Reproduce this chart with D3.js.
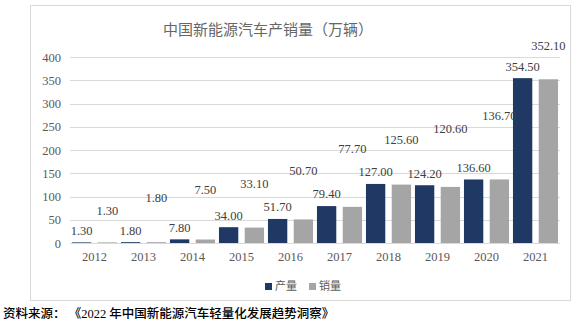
<!DOCTYPE html>
<html>
<head>
<meta charset="utf-8">
<script src="https://cdn.jsdelivr.net/npm/d3@7"></script>
<style>
  html, body { margin: 0; padding: 0; background: #fff; }
  svg { display: block; }
</style>
</head>
<body>
<script>
// ---- data ----
const years = ["2012","2013","2014","2015","2016","2017","2018","2019","2020","2021"];
const production = [1.3, 1.8, 7.8, 34.0, 51.7, 79.4, 127.0, 124.2, 136.6, 354.5];
const sales = [1.3, 1.8, 7.5, 33.1, 50.7, 77.7, 125.6, 120.6, 136.7, 352.1];
const yTicks = [0, 50, 100, 150, 200, 250, 300, 350, 400];
const seriesNames = ["产量", "销量"];
const title = "中国新能源汽车产销量（万辆）";
const source = "资料来源： 《2022 年中国新能源汽车轻量化发展趋势洞察》";

// label placement (pixels above bar top, as moved in the original)
const salesLabelLift = [32, 45, 50, 44, 49, 58, 45, 58, 64, 34];
const prodLabelLift = 12;

const W = 581, H = 325;
const colors = ["#1F3864", "#A5A5A5"];
const serif = "'Liberation Serif', 'Times New Roman', 'Noto Sans CJK SC', serif";
const cjk = "'Noto Sans CJK SC', sans-serif";

const svg = d3.select("body").append("svg").attr("width", W).attr("height", H);

// chart frame
svg.append("rect").attr("x", 30.5).attr("y", 5.5).attr("width", 540).attr("height", 295)
  .attr("fill", "#fff").attr("stroke", "#D9D9D9").attr("stroke-width", 1);

const x0 = d3.scaleBand().domain(years).range([70, 560]).paddingInner(0.08).paddingOuter(0.04);
const x1 = d3.scaleBand().domain([0, 1]).range([0, x0.bandwidth()]).paddingInner(0.25);
const y = d3.scaleLinear().domain([0, 400]).range([243, 57]);

// gridlines
svg.append("g").selectAll("line").data(yTicks).join("line")
  .attr("x1", 70).attr("x2", 560)
  .attr("y1", d => Math.round(y(d)) + 0.5).attr("y2", d => Math.round(y(d)) + 0.5)
  .attr("stroke", "#D9D9D9").attr("stroke-width", 1);

// y axis labels
const yAxis = d3.axisLeft(y).tickValues(yTicks).tickSize(0).tickPadding(0);
const gy = svg.append("g").attr("transform", "translate(61,0)").call(yAxis);
gy.select(".domain").remove();
gy.selectAll("text").attr("font-family", serif).attr("font-size", 12.5).attr("fill", "#595959");

// x axis labels
const xAxis = d3.axisBottom(x0).tickSize(0).tickPadding(0);
const gx = svg.append("g").attr("transform", "translate(0,252)").call(xAxis);
gx.select(".domain").remove();
gx.selectAll("text").attr("font-family", serif).attr("font-size", 12.5).attr("fill", "#595959");

// bars
const seriesData = [production, sales];
seriesData.forEach((vals, si) => {
  svg.append("g").selectAll("rect").data(vals).join("rect")
    .attr("x", (d, i) => x0(years[i]) + x1(si))
    .attr("width", x1.bandwidth())
    .attr("y", d => y(d))
    .attr("height", d => y(0) - y(d))
    .attr("fill", colors[si]);
});

// labels
svg.append("g").selectAll("text").data(production).join("text")
  .attr("x", (d, i) => x0(years[i]) + x1(0) + x1.bandwidth() / 2)
  .attr("y", d => y(d) - prodLabelLift)
  .attr("dy", "0.35em")
  .attr("text-anchor", "middle")
  .attr("font-family", serif).attr("font-size", 12.5).attr("fill", "#404040")
  .text(d => d.toFixed(2));

svg.append("g").selectAll("text").data(sales).join("text")
  .attr("x", (d, i) => x0(years[i]) + x1(1) + x1.bandwidth() / 2)
  .attr("y", (d, i) => y(d) - salesLabelLift[i])
  .attr("dy", "0.35em")
  .attr("text-anchor", "middle")
  .attr("font-family", serif).attr("font-size", 12.5).attr("fill", "#404040")
  .text(d => d.toFixed(2));

// title
svg.append("text").attr("x", 268).attr("y", 30).attr("dy", "0.35em")
  .attr("text-anchor", "middle").attr("font-family", cjk).attr("font-size", 15)
  .attr("fill", "#666666").text(title);

// legend
const legX = [265, 309];
seriesNames.forEach((n, i) => {
  svg.append("rect").attr("x", legX[i]).attr("y", 283).attr("width", 7).attr("height", 7).attr("fill", colors[i]);
  svg.append("text").attr("x", legX[i] + 10).attr("y", 286.5).attr("dy", "0.35em")
    .attr("font-family", cjk).attr("font-size", 11).attr("fill", "#595959").text(n);
});

// source note
svg.append("text").attr("x", 3).attr("y", 314).attr("dy", "0.35em")
  .attr("font-family", serif).attr("font-size", 12.5).attr("font-weight", 500)
  .attr("fill", "#000").text(source);
</script>
</body>
</html>
